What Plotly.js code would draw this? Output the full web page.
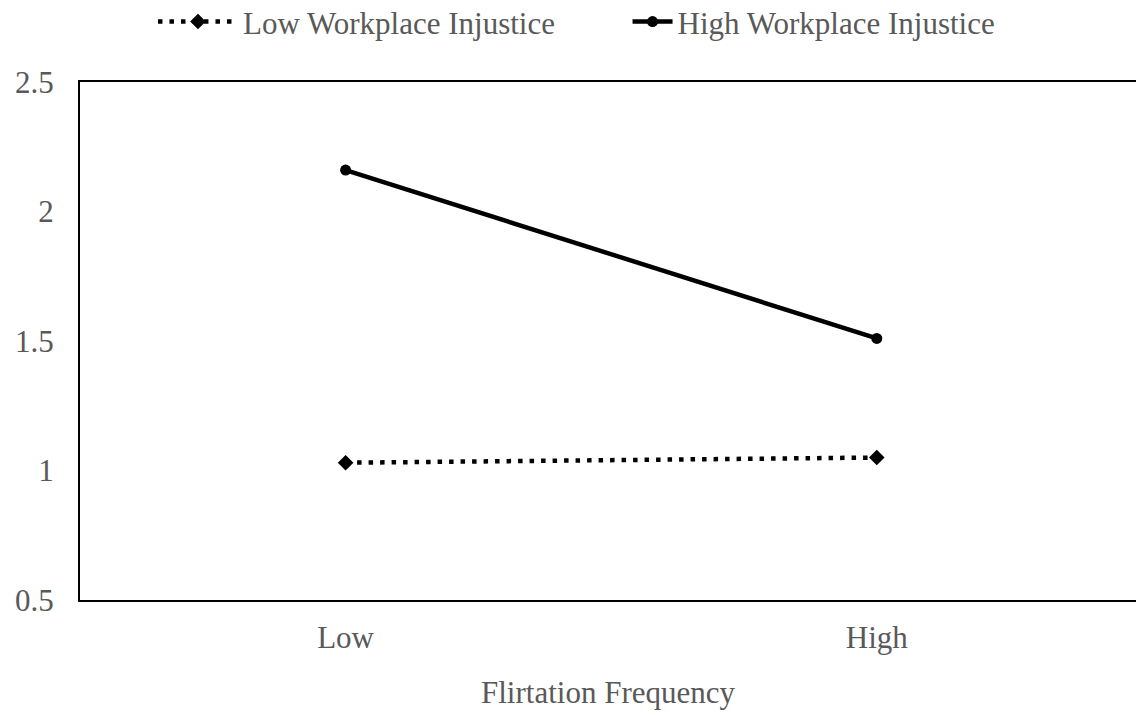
<!DOCTYPE html>
<html>
<head>
<meta charset="utf-8">
<script src="https://cdn.plot.ly/plotly-3.0.1.min.js"></script>
<style>html,body{margin:0;padding:0;background:#fff;}#chart{width:1136px;height:715px;}</style>
</head>
<body>
<div id="chart"></div>
<script>
var categories = ["Low", "High"];
var lowInjustice = [1.03, 1.05];
var highInjustice = [2.16, 1.51];
var seriesNames = ["Low Workplace Injustice", "High Workplace Injustice"];
var yTicks = [0.5, 1, 1.5, 2, 2.5];
var yTickLabels = ["0.5", "1", "1.5", "2", "2.5"];

var fontFam = "'Liberation Serif', 'Times New Roman', serif";
var FS = 31;
var traces = [
  {
    x: categories, y: lowInjustice, name: seriesNames[0], type: "scatter", mode: "lines+markers",
    line: {color: "#000", width: 4.5, dash: "4.5px,7px"},
    marker: {symbol: "diamond", size: 12, color: "#000"},
    legend: "legend"
  },
  {
    x: categories, y: highInjustice, name: seriesNames[1], type: "scatter", mode: "lines+markers",
    line: {color: "#000", width: 4.5},
    marker: {symbol: "circle", size: 11, color: "#000"},
    legend: "legend2"
  }
];
var legFont = {family: fontFam, size: FS, color: "#595959"};
var layout = {
  width: 1136, height: 715,
  margin: {l: 80, r: 0, t: 82, b: 115, autoexpand: false},
  paper_bgcolor: "#fff", plot_bgcolor: "#fff",
  font: {family: fontFam, size: FS, color: "#595959"},
  showlegend: true,
  legend: {orientation: "h", x: 0.0691, xanchor: "left", y: 1.116, yanchor: "middle",
           font: legFont, itemwidth: 80, bgcolor: "rgba(0,0,0,0)"},
  legend2: {orientation: "h", x: 0.5185, xanchor: "left", y: 1.116, yanchor: "middle",
           font: legFont, itemwidth: 40, bgcolor: "rgba(0,0,0,0)"},
  xaxis: {
    type: "category", range: [-0.5, 1.488], showgrid: false, zeroline: false,
    showline: true, linecolor: "#000", linewidth: 2, mirror: true,
    ticks: "", ticklabelstandoff: 9,
    tickfont: {family: fontFam, size: FS, color: "#595959"},
    title: {text: "Flirtation Frequency", font: {family: fontFam, size: FS, color: "#595959"}, standoff: 27}
  },
  yaxis: {
    range: [0.5, 2.5], tickvals: yTicks, ticktext: yTickLabels, showgrid: false, zeroline: false,
    showline: true, linecolor: "#000", linewidth: 2, ticks: "", ticklabelstandoff: 18,
    tickfont: {family: fontFam, size: FS, color: "#595959"}
  }
};
Plotly.newPlot("chart", traces, layout, {displayModeBar: false, staticPlot: true});
</script>
</body>
</html>
